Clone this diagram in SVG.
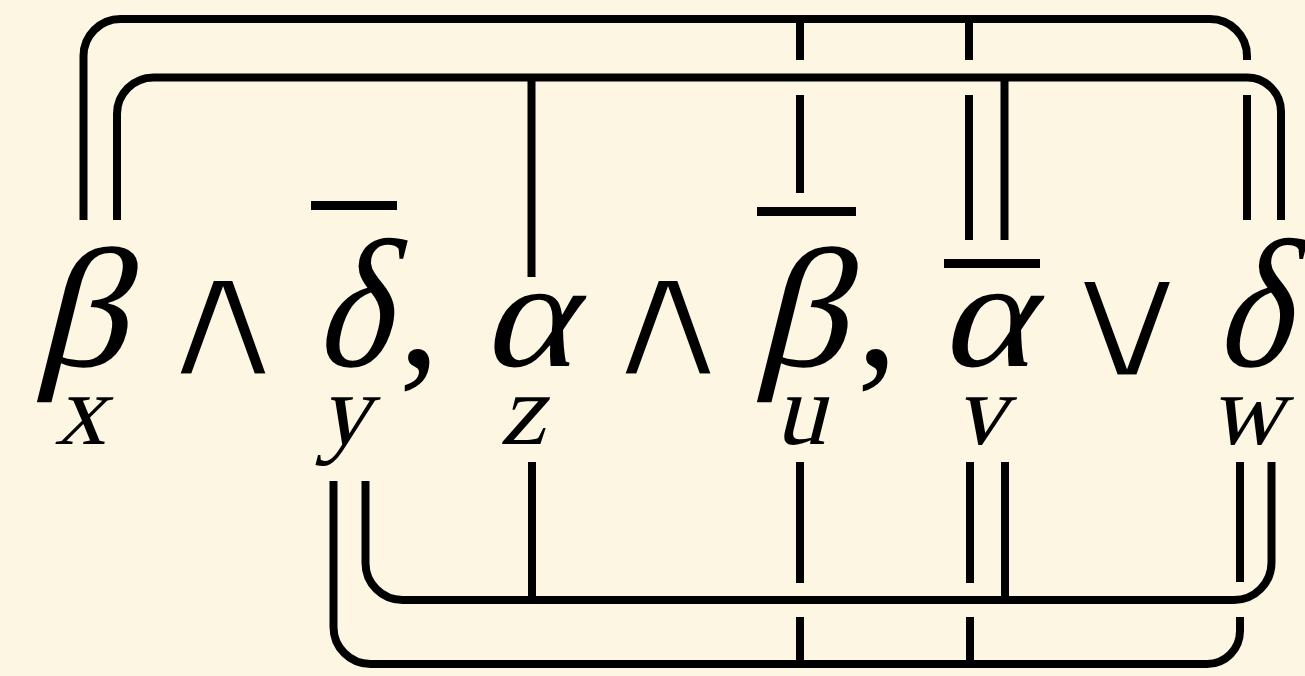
<svg xmlns="http://www.w3.org/2000/svg" width="1305" height="676" viewBox="0 0 1305 676">
<style>
.bg{fill:#fdf6e3}
.w{fill:none;stroke:#000;stroke-width:8;stroke-linecap:butt}
.g{font-family:'Liberation Serif','Times New Roman',serif;font-size:170px;fill:#000}
.s{font-family:'Liberation Serif','Times New Roman',serif;font-size:102px;fill:#000}
.op{font-family:'DejaVu Sans',sans-serif;font-size:172px;fill:#000;stroke:#fdf6e3;stroke-width:7;stroke-linejoin:miter}
.cm{font-family:'Liberation Serif','Times New Roman',serif;font-size:165px;fill:#000}
.bar{fill:#000}
</style>
<rect class="bg" x="0" y="0" width="1305" height="676"/>
<g id="connectors">
<path class="w" d="M83.5,220 V56 A37,37 0 0 1 120.5,19 H1210 A37,37 0 0 1 1247,56 V60"/>
<path class="w" d="M1247,95 V220"/>
<path class="w" d="M800,19 V60 M800,95 V193"/>
<path class="w" d="M969,19 V60 M969,95 V240"/>
<path class="w" d="M117,220 V114 A36.5,36.5 0 0 1 153.5,77.5 H1247 A34,34 0 0 1 1281,111.5 V220"/>
<path class="w" d="M531.5,77.5 V277"/>
<path class="w" d="M1004.5,77.5 V240"/>
<path class="w" d="M365.5,481 V563 A37,37 0 0 0 402.5,600 H1234 A37.5,37.5 0 0 0 1271.5,562.5 V462"/>
<path class="w" d="M532,462 V600"/>
<path class="w" d="M1005,462 V600"/>
<path class="w" d="M333.5,481 V627 A37,37 0 0 0 370.5,664 H1207 A33,33 0 0 0 1240,631 V617"/>
<path class="w" d="M1240,462 V582"/>
<path class="w" d="M800,462 V583 M800,617 V664"/>
<path class="w" d="M970,462 V583 M970,617 V664"/>
</g>
<g id="node-x">
<g transform="translate(80,366) skewX(-14) scale(1.06,1)"><text class="g" text-anchor="middle">β</text></g>
<g transform="translate(80,444) skewX(-14)"><text class="s" text-anchor="middle">x</text></g>
</g>
<g id="op-and1"><text class="op" x="223" y="376.5" text-anchor="middle" textLength="148" lengthAdjust="spacingAndGlyphs">∧</text></g>
<g id="node-y">
<rect class="bar" x="311" y="201" width="86" height="9"/>
<g transform="translate(351,366) skewX(-14) scale(0.94,1.08)"><text class="g" text-anchor="middle">δ</text></g>
<g transform="translate(344,444) skewX(-14)"><text class="s" text-anchor="middle">y</text></g>
</g>
<g id="comma1"><text class="cm" x="419" y="366" text-anchor="middle">,</text></g>
<g id="node-z">
<g transform="translate(527,366) skewX(-14) scale(1.03,0.9)"><text class="g" text-anchor="middle">α</text></g>
<g transform="translate(522,444) skewX(-14)"><text class="s" text-anchor="middle">z</text></g>
</g>
<g id="op-and2"><text class="op" x="668" y="376.5" text-anchor="middle" textLength="148" lengthAdjust="spacingAndGlyphs">∧</text></g>
<g id="node-u">
<rect class="bar" x="757" y="207" width="99" height="9"/>
<g transform="translate(800,366) skewX(-14) scale(1.06,1)"><text class="g" text-anchor="middle">β</text></g>
<g transform="translate(800,444) skewX(-14)"><text class="s" text-anchor="middle">u</text></g>
</g>
<g id="comma2"><text class="cm" x="877" y="366" text-anchor="middle">,</text></g>
<g id="node-v">
<rect class="bar" x="944" y="259" width="96" height="9"/>
<g transform="translate(985,366) skewX(-14) scale(1.03,0.9)"><text class="g" text-anchor="middle">α</text></g>
<g transform="translate(980,444) skewX(-14)"><text class="s" text-anchor="middle">v</text></g>
</g>
<g id="op-or"><text class="op" x="1127" y="377.5" text-anchor="middle" textLength="150" lengthAdjust="spacingAndGlyphs">∨</text></g>
<g id="node-w">
<g transform="translate(1251,366) skewX(-14) scale(0.93,1.08)"><text class="g" text-anchor="middle">δ</text></g>
<g transform="translate(1246,444) skewX(-14)"><text class="s" text-anchor="middle">w</text></g>
</g>
</svg>
